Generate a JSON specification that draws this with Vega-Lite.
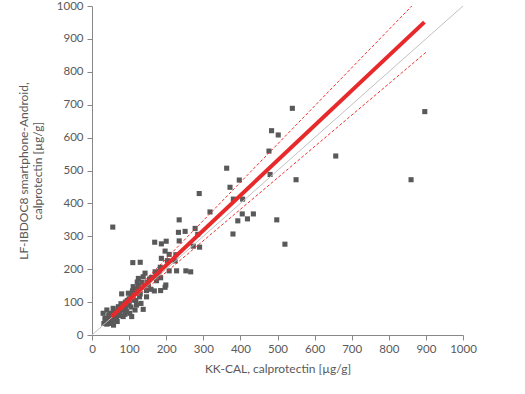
{
  "$schema": "https://vega.github.io/schema/vega-lite/v6.json",
  "width": 371,
  "height": 329,
  "autosize": {"type": "none"},
  "padding": {"left": 92, "top": 6, "right": 62, "bottom": 59},
  "background": "white",
  "config": {
    "view": {"stroke": null},
    "font": "Lato",
    "axis": {
      "grid": false,
      "domainColor": "#888888",
      "tickColor": "#888888",
      "tickSize": 5,
      "labelColor": "#595959",
      "titleColor": "#595959",
      "labelFont": "Lato",
      "titleFont": "Lato",
      "labelFontSize": 11.5,
      "titleFontSize": 12,
      "titleFontWeight": "normal",
      "labelOverlap": false,
      "labelBound": false,
      "labelFlush": false,
      "format": "d"
    }
  },
  "encoding": {
    "x": {"field": "x", "type": "quantitative", "scale": {"domain": [0, 1000], "nice": false}, "axis": {"values": [0,100,200,300,400,500,600,700,800,900,1000], "title": "KK-CAL,  calprotectin [µg/g]", "titlePadding": 9, "labelPadding": 3}},
    "y": {"field": "y", "type": "quantitative", "scale": {"domain": [0, 1000], "nice": false}, "axis": {"values": [0,100,200,300,400,500,600,700,800,900,1000], "title": ["LF-IBDOC8 smartphone-Android,", "calprotectin [µg/g]"], "titlePadding": 12, "labelPadding": 4}}
  },
  "layer": [
    {
      "data": {"values": [
        {"x":363,"y":507},{"x":484,"y":621},{"x":502,"y":608},{"x":477,"y":559},{"x":480,"y":488},{"x":540,"y":689},{"x":897,"y":679},{"x":657,"y":544},{"x":550,"y":472},{"x":860,"y":472},{"x":498,"y":350},{"x":520,"y":276},{"x":397,"y":471},{"x":372,"y":449},{"x":289,"y":430},{"x":381,"y":413},{"x":406,"y":413},{"x":318,"y":374},{"x":405,"y":368},{"x":435,"y":368},{"x":393,"y":347},{"x":419,"y":353},{"x":380,"y":307},{"x":235,"y":350},{"x":233,"y":312},{"x":251,"y":315},{"x":278,"y":324},{"x":285,"y":306},{"x":235,"y":286},{"x":169,"y":282},{"x":187,"y":277},{"x":200,"y":285},{"x":56,"y":328},{"x":273,"y":270},{"x":290,"y":267},{"x":197,"y":255},{"x":208,"y":245},{"x":226,"y":244},{"x":187,"y":233},{"x":203,"y":226},{"x":224,"y":225},{"x":110,"y":220},{"x":130,"y":221},{"x":184,"y":206},{"x":181,"y":192},{"x":170,"y":192},{"x":208,"y":195},{"x":228,"y":195},{"x":253,"y":195},{"x":266,"y":192},{"x":143,"y":188},{"x":125,"y":172},{"x":122,"y":161},{"x":176,"y":180},{"x":185,"y":174},{"x":174,"y":165},{"x":155,"y":170},{"x":138,"y":177},{"x":152,"y":152},{"x":159,"y":139},{"x":168,"y":134},{"x":185,"y":135},{"x":197,"y":145},{"x":199,"y":152},{"x":147,"y":135},{"x":111,"y":147},{"x":109,"y":134},{"x":98,"y":127},{"x":80,"y":125},{"x":128,"y":116},{"x":111,"y":106},{"x":138,"y":78},{"x":147,"y":116},{"x":132,"y":96},{"x":120,"y":91},{"x":98,"y":91},{"x":71,"y":86},{"x":82,"y":76},{"x":93,"y":71},{"x":57,"y":81},{"x":40,"y":76},{"x":30,"y":66},{"x":48,"y":66},{"x":57,"y":64},{"x":66,"y":56},{"x":75,"y":59},{"x":84,"y":56},{"x":35,"y":51},{"x":44,"y":46},{"x":53,"y":41},{"x":32,"y":35},{"x":40,"y":33},{"x":51,"y":35},{"x":68,"y":41},{"x":89,"y":63},{"x":102,"y":66},{"x":107,"y":56},{"x":116,"y":76},
        {"x":60,"y":70},{"x":70,"y":75},{"x":85,"y":90},{"x":90,"y":100},{"x":100,"y":110},{"x":105,"y":120},{"x":115,"y":130},{"x":120,"y":140},{"x":95,"y":105},{"x":78,"y":95},{"x":65,"y":50},{"x":55,"y":55},{"x":45,"y":60},{"x":38,"y":40},{"x":62,"y":45},{"x":100,"y":95},{"x":110,"y":115},{"x":125,"y":150},{"x":135,"y":160},{"x":140,"y":145},{"x":150,"y":160},{"x":160,"y":175},{"x":118,"y":105},{"x":130,"y":125},{"x":90,"y":80},{"x":75,"y":70},{"x":50,"y":50},{"x":42,"y":38},{"x":36,"y":45},{"x":58,"y":30},{"x":47,"y":52},{"x":105,"y":85}
      ]},
      "mark": {"type": "point", "shape": "square", "filled": true, "size": 26, "color": "#595959", "opacity": 1}
    },
    {
      "data": {"values": [{"x": 0, "y": 0}, {"x": 1000, "y": 1000}]},
      "mark": {"type": "line", "color": "#c0c0c0", "strokeWidth": 1}
    },
    {
      "data": {"values": [{"x": 50, "y": 58}, {"x": 862, "y": 1000}]},
      "mark": {"type": "line", "color": "#f03030", "strokeWidth": 1, "strokeDash": [3, 2]}
    },
    {
      "data": {"values": [{"x": 50, "y": 48}, {"x": 902, "y": 861}]},
      "mark": {"type": "line", "color": "#f03030", "strokeWidth": 1, "strokeDash": [3, 2]}
    },
    {
      "data": {"values": [{"x": 53, "y": 56}, {"x": 896, "y": 951}]},
      "mark": {"type": "line", "color": "#e8292b", "strokeWidth": 4}
    }
  ]
}
